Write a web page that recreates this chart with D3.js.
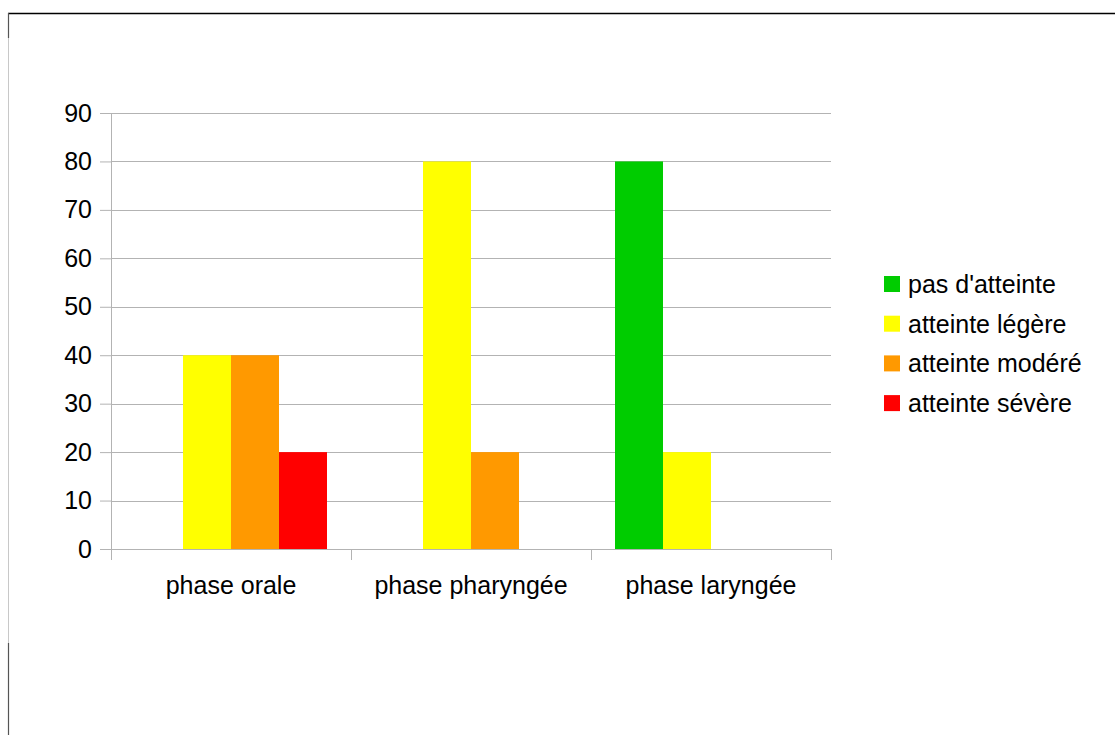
<!DOCTYPE html>
<html>
<head>
<meta charset="utf-8">
<script src="https://cdn.jsdelivr.net/npm/d3@7/dist/d3.min.js"></script>
<style>
  html, body { margin: 0; padding: 0; background: #fff; }
  svg { display: block; }
  text { font-family: "Liberation Sans", Arial, sans-serif; fill: #000; }
</style>
</head>
<body>
<svg id="chart" width="1115" height="735"></svg>
<script>
// Swallowing assessment by phase (%)
const categories = ["phase orale", "phase pharyngée", "phase laryngée"];
const seriesNames = ["pas d'atteinte", "atteinte légère", "atteinte modéré", "atteinte sévère"];
const seriesColors = ["#00cc00", "#ffff00", "#ff9900", "#ff0000"];
const pasAtteinte = [0, 0, 80];
const atteinteLegere = [40, 80, 20];
const atteinteModere = [40, 20, 0];
const atteinteSevere = [20, 0, 0];
const yTicks = [0, 10, 20, 30, 40, 50, 60, 70, 80, 90];

const seriesValues = [pasAtteinte, atteinteLegere, atteinteModere, atteinteSevere];

const fontSize = "25px";
const svg = d3.select("#chart");

// Frame lines
svg.append("line").attr("x1", 8).attr("x2", 1115).attr("y1", 13.5).attr("y2", 13.5)
  .attr("stroke", "#000").attr("stroke-width", 1.5);
svg.append("line").attr("x1", 8.5).attr("x2", 8.5).attr("y1", 13).attr("y2", 735)
  .attr("stroke", "#c8c8c8").attr("stroke-width", 1);
svg.append("line").attr("x1", 8.5).attr("x2", 8.5).attr("y1", 13).attr("y2", 38)
  .attr("stroke", "#555").attr("stroke-width", 1.2);
svg.append("line").attr("x1", 8.5).attr("x2", 8.5).attr("y1", 643).attr("y2", 735)
  .attr("stroke", "#555").attr("stroke-width", 1.2);

const plotLeft = 111, plotRight = 831, plotTop = 113, plotBottom = 549;

const x = d3.scaleBand().domain(categories).range([plotLeft, plotRight]).padding(0);
const xInner = d3.scaleBand().domain(seriesNames).range([0, x.bandwidth()])
  .paddingInner(0).paddingOuter(0.5);
const y = d3.scaleLinear().domain([0, 90]).range([plotBottom, plotTop]);

const gridColor = "#b3b3b3";

// Y ticks and labels
const yAxis = svg.append("g").attr("transform", `translate(${plotLeft},0)`)
  .call(d3.axisLeft(y).tickValues(yTicks).tickSize(11).tickPadding(8));
yAxis.select(".domain").remove();
yAxis.selectAll(".tick line").attr("stroke", gridColor);
yAxis.selectAll(".tick text").style("font-size", fontSize)
  .style("font-family", "Liberation Sans, Arial, sans-serif").attr("fill", "#000");

// Horizontal gridlines
svg.append("g").selectAll("line").data(yTicks).join("line")
  .attr("x1", plotLeft).attr("x2", plotRight)
  .attr("y1", d => Math.round(y(d)) + 0.5).attr("y2", d => Math.round(y(d)) + 0.5)
  .attr("stroke", gridColor).attr("stroke-width", 1);

// Vertical axis line
svg.append("line").attr("x1", plotLeft + 0.5).attr("x2", plotLeft + 0.5)
  .attr("y1", plotTop).attr("y2", plotBottom)
  .attr("stroke", gridColor);

// Bars
const groups = svg.append("g").selectAll("g").data(categories).join("g")
  .attr("transform", d => `translate(${x(d)},0)`);
groups.selectAll("rect")
  .data((c, ci) => seriesNames.map((s, si) => ({ s, si, v: seriesValues[si][ci] })))
  .join("rect")
  .attr("x", d => xInner(d.s))
  .attr("width", xInner.bandwidth())
  .attr("y", d => y(d.v))
  .attr("height", d => y(0) - y(d.v))
  .attr("fill", d => seriesColors[d.si]);

// X axis with category separators
const xBoundaries = categories.map(c => x(c)).concat([plotRight]);
svg.append("g").selectAll("line").data(xBoundaries).join("line")
  .attr("x1", d => Math.round(d) + 0.5).attr("x2", d => Math.round(d) + 0.5)
  .attr("y1", plotBottom).attr("y2", plotBottom + 11)
  .attr("stroke", gridColor);
svg.append("line").attr("x1", plotLeft).attr("x2", plotRight)
  .attr("y1", plotBottom + 0.5).attr("y2", plotBottom + 0.5).attr("stroke", gridColor);

svg.append("g").selectAll("text").data(categories).join("text")
  .attr("x", d => x(d) + x.bandwidth() / 2)
  .attr("y", 594)
  .attr("text-anchor", "middle")
  .style("font-size", fontSize)
  .text(d => d);

// Legend
const legend = svg.append("g").attr("transform", "translate(884,276)");
const rows = legend.selectAll("g").data(seriesNames).join("g")
  .attr("transform", (d, i) => `translate(0,${i * 39.7})`);
rows.append("rect").attr("width", 16).attr("height", 16).attr("fill", (d, i) => seriesColors[i]);
rows.append("text").attr("x", 24).attr("y", 17).style("font-size", fontSize).text(d => d);
</script>
</body>
</html>
